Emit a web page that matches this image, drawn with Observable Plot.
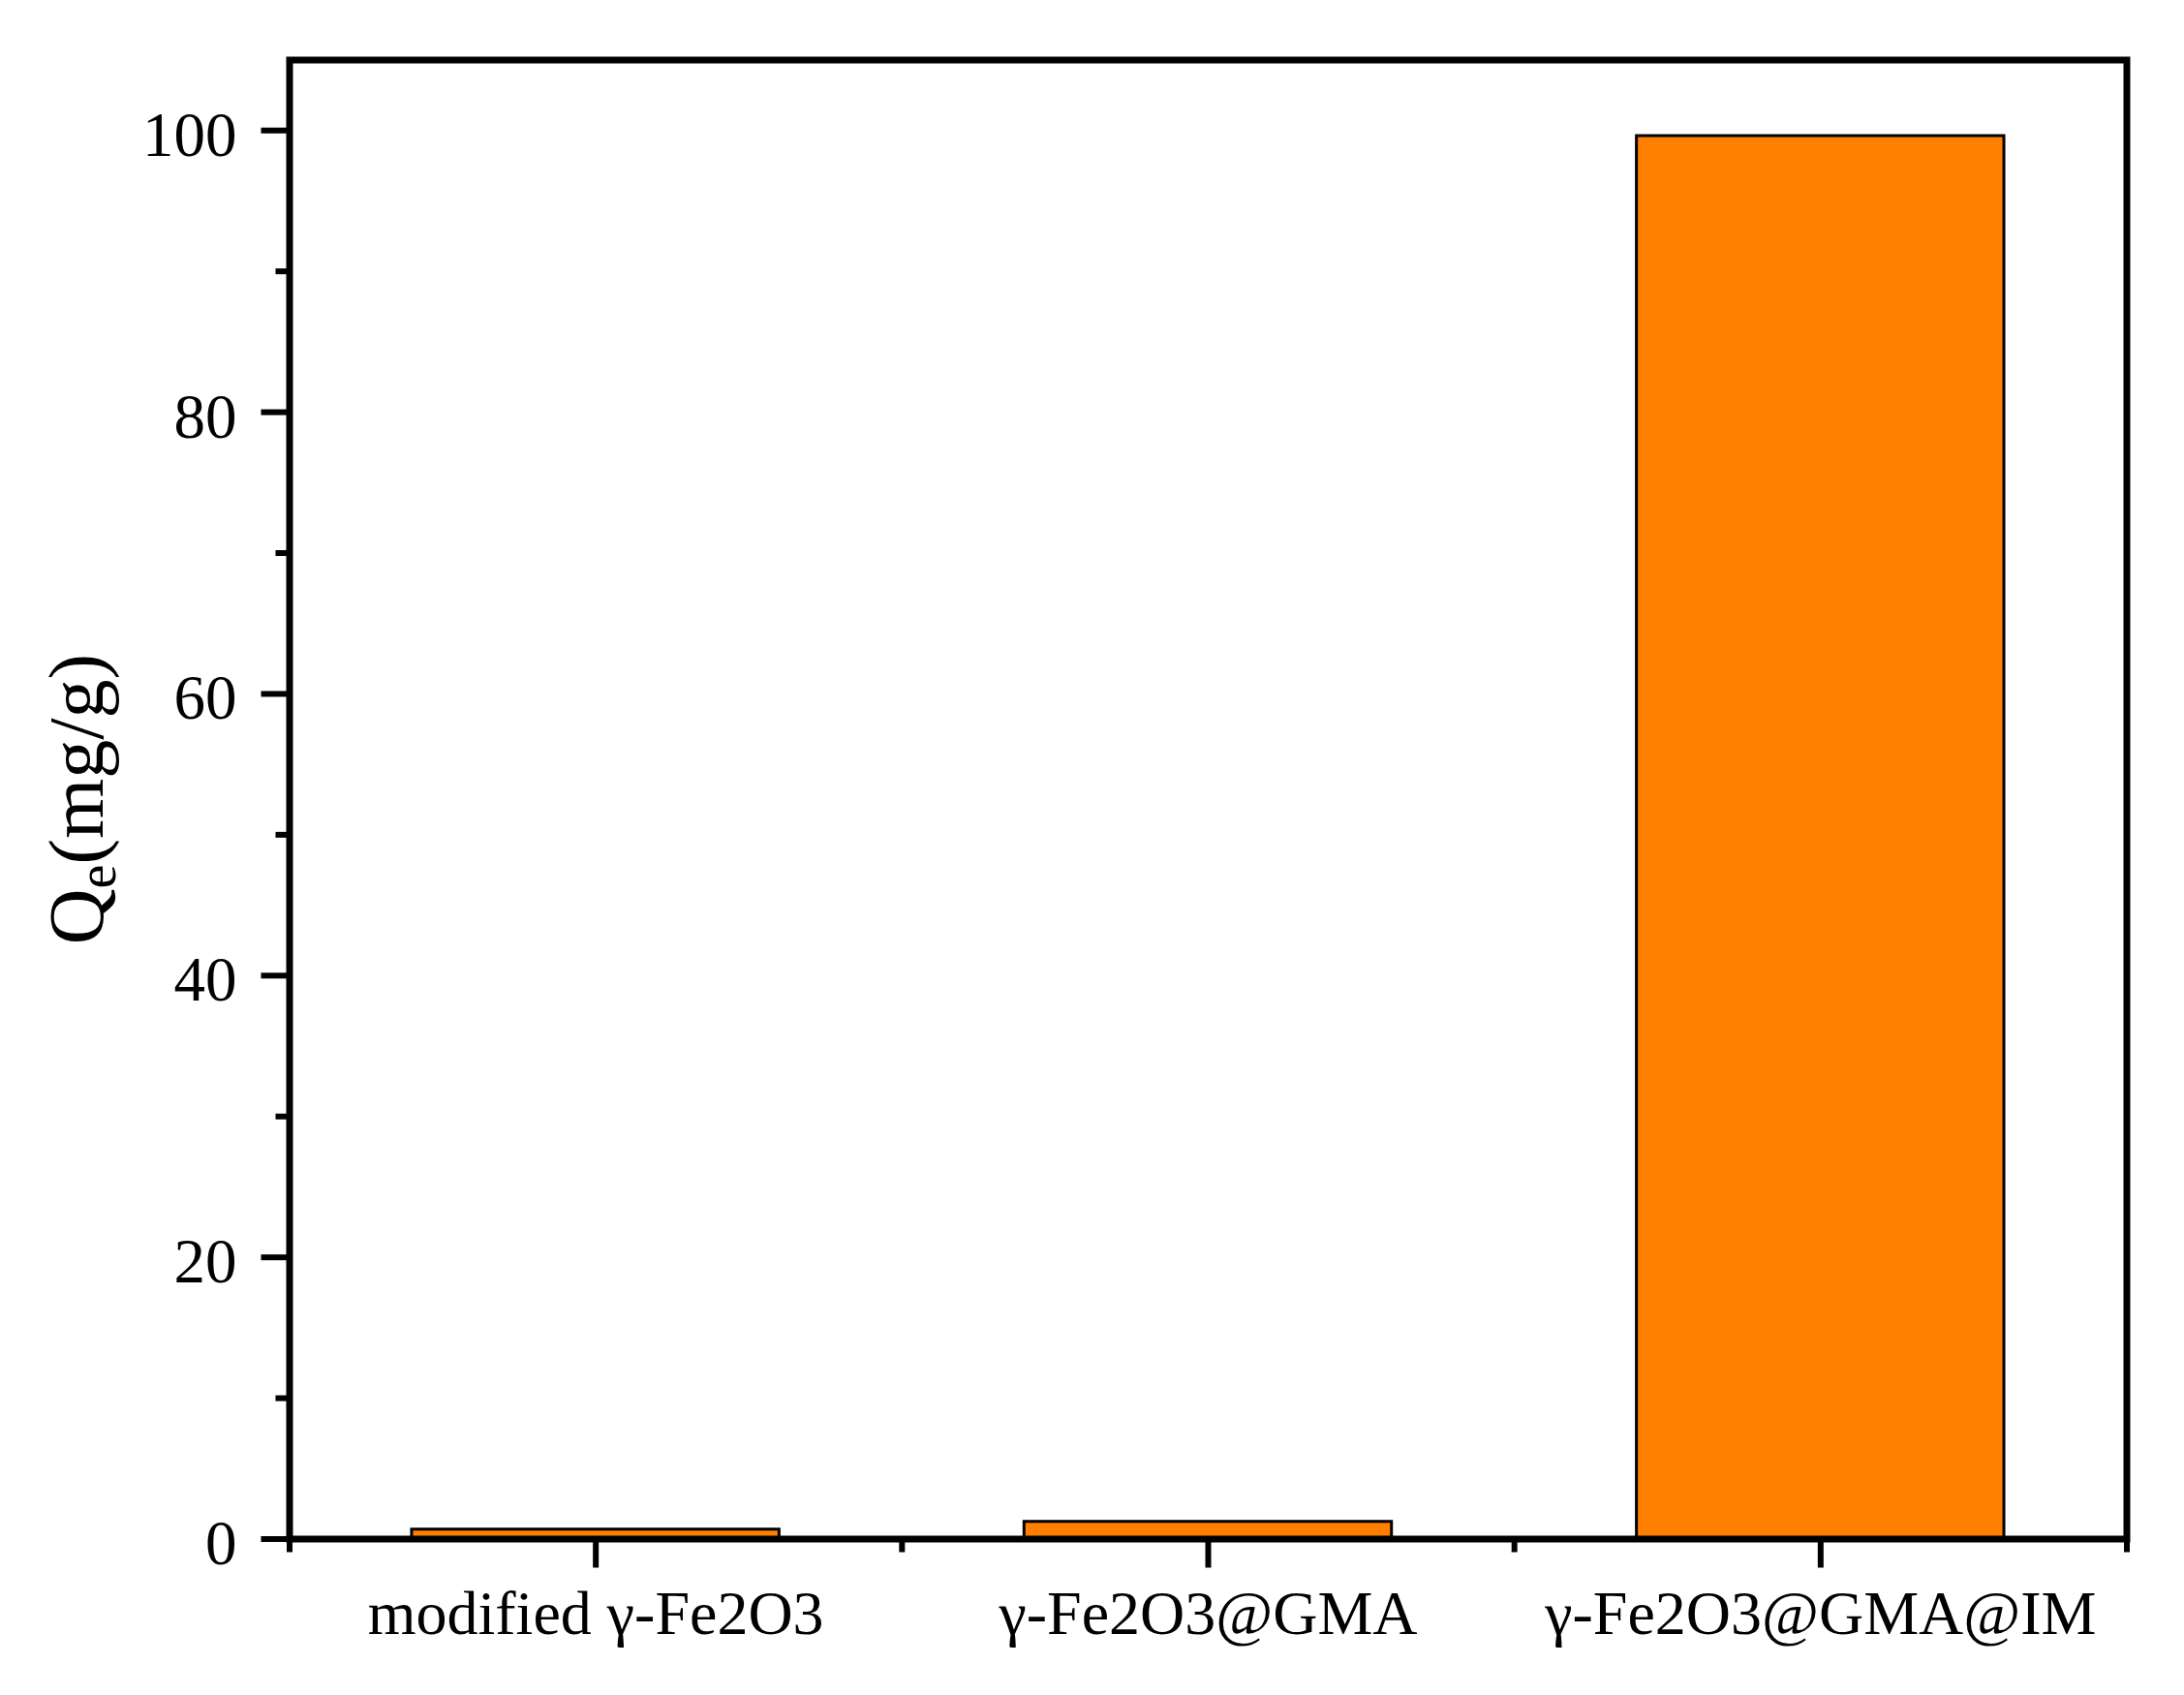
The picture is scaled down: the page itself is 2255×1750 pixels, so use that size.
<!DOCTYPE html>
<html><head><meta charset="utf-8">
<script src="https://cdn.jsdelivr.net/npm/d3@7"></script>
<script src="https://cdn.jsdelivr.net/npm/@observablehq/plot@0.6"></script>
<style>html,body{margin:0;padding:0;background:#fff;}</style>
</head><body><div id="chart"></div>
<script>
const categories = ["modified γ-Fe2O3", "γ-Fe2O3@GMA", "γ-Fe2O3@GMA@IM"];
const qeValues = [0.67, 1.22, 99.6];
const yMajorTicks = [0, 20, 40, 60, 80, 100];
const yMinorTicks = [10, 30, 50, 70, 90];
const xMajorTicks = [0, 1, 2];
const xMinorTicks = [-0.5, 0.5, 1.5, 2.5];
const yTitleMain = "Q";
const yTitleSub = "e";
const yTitleUnit = "(mg/g)";

const data = categories.map((c, i) => ({category: c, index: i, value: qeValues[i]}));
const font = "'Liberation Serif', 'Times New Roman', serif";
const barHalf = 0.3;

const chart = Plot.plot({
  width: 2255, height: 1750,
  marginLeft: 298.5, marginRight: 59.5, marginTop: 61.5, marginBottom: 161.5,
  style: {fontFamily: font, fontSize: "64px", background: "#fff", color: "#000"},
  x: {type: "linear", domain: [-0.5, 2.5]},
  y: {domain: [0, 105]},
  marks: [
    Plot.rect(data, {x1: d => d.index - barHalf, x2: d => d.index + barHalf, y1: 0, y2: "value", fill: "#FF8000", stroke: "#000", strokeWidth: 3}),
    Plot.axisY(yMajorTicks, {tickSize: 29, tickPadding: 25.5, strokeWidth: 6, fontSize: 65, label: null, stroke: "#000", fill: "#000"}),
    Plot.axisY(yMinorTicks, {tickSize: 14, strokeWidth: 6, tickFormat: () => "", label: null, stroke: "#000"}),
    Plot.axisX(xMajorTicks, {tickSize: 30, tickPadding: 23, strokeWidth: 6, fontSize: 64, label: null, stroke: "#000", fill: "#000", tickFormat: i => categories[i]}),
    Plot.axisX(xMinorTicks, {tickSize: 14, strokeWidth: 6, tickFormat: () => "", label: null, stroke: "#000"}),
    Plot.frame({stroke: "#000", strokeWidth: 7})
  ]
});
document.getElementById("chart").appendChild(chart);

// nudge y tick labels slightly lower, as in the reference
d3.select(chart).selectAll('g[aria-label="y-axis tick label"] text').attr("dy", "0.08em");

const yc = chart.scale("y").apply(52.5);
const t = d3.select(chart).append("text")
  .attr("transform", `translate(106, ${yc}) rotate(-90)`)
  .attr("text-anchor", "middle")
  .attr("fill", "#000")
  .style("font-family", font)
  .style("font-size", "80px");
t.append("tspan").text(yTitleMain);
t.append("tspan").attr("dy", 13).style("font-size", "56px").text(yTitleSub);
t.append("tspan").attr("dy", -13).text(yTitleUnit);
</script>
</body></html>
